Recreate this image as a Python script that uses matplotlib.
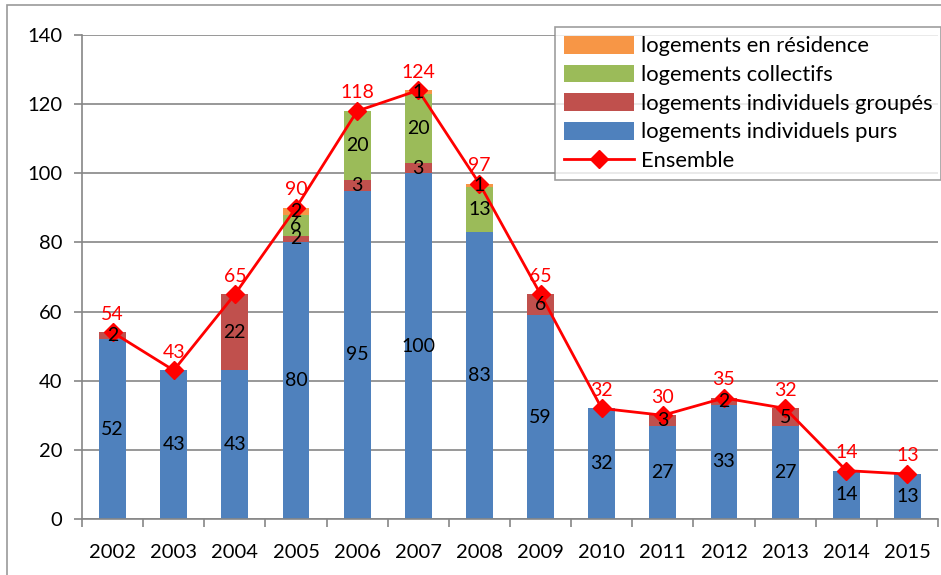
import numpy as np
import matplotlib.pyplot as plt

plt.rcParams['font.family'] = ['Lato', 'DejaVu Sans']

# logements commencés par type et par année
annees = [2002, 2003, 2004, 2005, 2006, 2007, 2008, 2009, 2010, 2011, 2012, 2013, 2014, 2015]
indiv_purs = [52, 43, 43, 80, 95, 100, 83, 59, 32, 27, 33, 27, 14, 13]
indiv_groupes = [2, 0, 22, 2, 3, 3, 0, 6, 0, 3, 2, 5, 0, 0]
collectifs = [0, 0, 0, 6, 20, 20, 13, 0, 0, 0, 0, 0, 0, 0]
residence = [0, 0, 0, 2, 0, 1, 1, 0, 0, 0, 0, 0, 0, 0]
ensemble = [54, 43, 65, 90, 118, 124, 97, 65, 32, 30, 35, 32, 14, 13]

series = [
    ("logements individuels purs", indiv_purs, "#4F81BD"),
    ("logements individuels groupés", indiv_groupes, "#C0504D"),
    ("logements collectifs", collectifs, "#9BBB59"),
    ("logements en résidence", residence, "#F79646"),
]

fig = plt.figure(figsize=(9.41, 5.75), dpi=100)
ax = fig.add_axes([82 / 941, 56 / 575, 856 / 941, 484 / 575])

# cadre extérieur du graphique
fig.patches.append(plt.Rectangle((7 / 941, -0.1), 1.2, (575 - 5) / 575 + 0.1,
                                 transform=fig.transFigure, fill=False,
                                 edgecolor="#999999", lw=1.2))

x = np.arange(len(annees))
bottom = np.zeros(len(annees))
handles = {}
for nom, vals, col in series:
    vals = np.array(vals)
    b = ax.bar(x, vals, 0.44, bottom=bottom, color=col, zorder=2, label=nom)
    handles[nom] = b
    for xi, v, bo in zip(x, vals, bottom):
        if v > 0:
            ax.text(xi, bo + v / 2, str(v), ha="center", va="center",
                    fontsize=14, color="black", zorder=5)
    bottom += vals

ligne, = ax.plot(x, ensemble, color="red", lw=2, marker="D", markersize=9,
                 zorder=4, label="Ensemble")
for xi, v in zip(x, ensemble):
    ax.annotate(str(v), (xi, v), xytext=(0, 7), textcoords="offset points",
                ha="center", va="bottom", color="red", fontsize=14, zorder=6)

ax.set_xlim(-0.5, len(annees) - 0.5)
ax.set_ylim(0, 140)
ax.set_yticks(range(0, 141, 20))
ax.set_xticks(np.arange(len(annees) + 1) - 0.5, minor=False)
ax.set_xticklabels([])
ax.set_xticks(x, minor=True)
ax.set_xticklabels([str(a) for a in annees], minor=True)
ax.tick_params(axis="x", which="major", length=6, color="#868686", width=1.2)
ax.tick_params(axis="x", which="minor", length=0, pad=18, labelsize=14.5)
ax.tick_params(axis="y", length=6, color="#868686", width=1.2, labelsize=14.5, pad=8)

ax.grid(axis="y", color="#868686", lw=1.2, zorder=0)
for s in ["top", "right"]:
    ax.spines[s].set_visible(False)
for s in ["left", "bottom"]:
    ax.spines[s].set_color("#868686")
    ax.spines[s].set_linewidth(1.2)

ordre = ["logements en résidence", "logements collectifs",
         "logements individuels groupés", "logements individuels purs"]
leg = ax.legend([handles[n] for n in ordre] + [ligne], ordre + ["Ensemble"],
                loc="upper right", bbox_to_anchor=(1.004, 1.016), fontsize=15.8,
                frameon=True, fancybox=False, edgecolor="#868686",
                handlelength=3.2, handleheight=0.85, labelspacing=0.38,
                borderpad=0.4, handletextpad=0.3, borderaxespad=0)
leg.get_frame().set_linewidth(1.2)
leg.set_zorder(10)

fig.savefig("out.png", dpi=100)
